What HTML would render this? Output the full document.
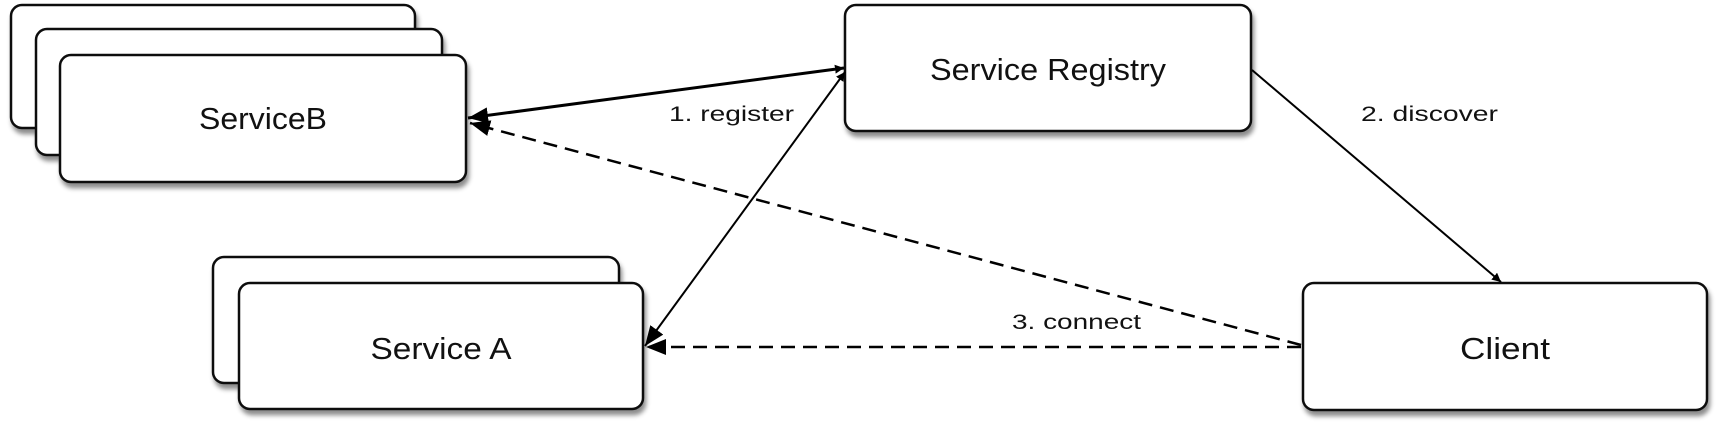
<!DOCTYPE html>
<html><head><meta charset="utf-8"><style>
html,body{margin:0;padding:0;background:#fff;}
svg{display:block;}
text{font-family:"Liberation Sans",sans-serif;fill:#111;}
</style></head><body>
<svg width="1716" height="428" viewBox="0 0 1716 428" xmlns="http://www.w3.org/2000/svg">
<defs>
<filter id="sh" x="-5%" y="-10%" width="110%" height="130%">
<feDropShadow dx="2" dy="5" stdDeviation="2.5" flood-color="#000" flood-opacity="0.45"/>
</filter>
<marker id="ah" viewBox="0 0 10 10" refX="10" refY="5" markerWidth="9" markerHeight="9" markerUnits="userSpaceOnUse" orient="auto-start-reverse">
<path d="M0,0 L10,5 L0,10 z" fill="#000"/>
</marker>
<marker id="ahb" viewBox="0 0 10 10" refX="10" refY="5" markerWidth="20" markerHeight="16" markerUnits="userSpaceOnUse" orient="auto-start-reverse" preserveAspectRatio="none">
<path d="M0,0 L10,5 L0,10 z" fill="#000"/>
</marker>
</defs>
<g stroke="#111" stroke-width="2.5" fill="#fff" filter="url(#sh)">
<rect x="11" y="5" width="404" height="123" rx="11"/>
<rect x="36" y="29" width="406" height="126" rx="11"/>
<rect x="60" y="55" width="406" height="127" rx="11"/>
<rect x="213" y="257" width="406" height="126" rx="11"/>
<rect x="239" y="283" width="404" height="126" rx="11"/>
<rect x="845" y="5" width="406" height="126" rx="11"/>
<rect x="1303" y="283" width="404" height="127" rx="11"/>
</g>
<text x="263" y="129" font-size="31" text-anchor="middle" textLength="128" lengthAdjust="spacingAndGlyphs">ServiceB</text>
<text x="441" y="359" font-size="31" text-anchor="middle" textLength="141" lengthAdjust="spacingAndGlyphs">Service A</text>
<text x="1048" y="80" font-size="31" text-anchor="middle" textLength="236" lengthAdjust="spacingAndGlyphs">Service Registry</text>
<text x="1505" y="359" font-size="31" text-anchor="middle" textLength="90" lengthAdjust="spacingAndGlyphs">Client</text>
<g stroke="#000" fill="none">
<line x1="468" y1="118" x2="844" y2="68" stroke-width="3" marker-start="url(#ahb)" marker-end="url(#ah)"/>
<line x1="645" y1="346" x2="845" y2="72" stroke-width="2" marker-start="url(#ahb)" marker-end="url(#ah)"/>
<line x1="1252" y1="70" x2="1501" y2="282" stroke-width="2" marker-end="url(#ah)"/>
<line x1="1301" y1="345" x2="470" y2="123" stroke-width="2.5" stroke-dasharray="14,8" marker-end="url(#ahb)"/>
<line x1="1301" y1="347" x2="646" y2="347" stroke-width="2.5" stroke-dasharray="14,8" marker-end="url(#ahb)"/>
</g>
<text x="669" y="121" font-size="21" textLength="125" lengthAdjust="spacingAndGlyphs">1. register</text>
<text x="1361" y="121" font-size="21" textLength="137" lengthAdjust="spacingAndGlyphs">2. discover</text>
<text x="1012" y="329" font-size="21" textLength="129" lengthAdjust="spacingAndGlyphs">3. connect</text>
</svg>
</body></html>
